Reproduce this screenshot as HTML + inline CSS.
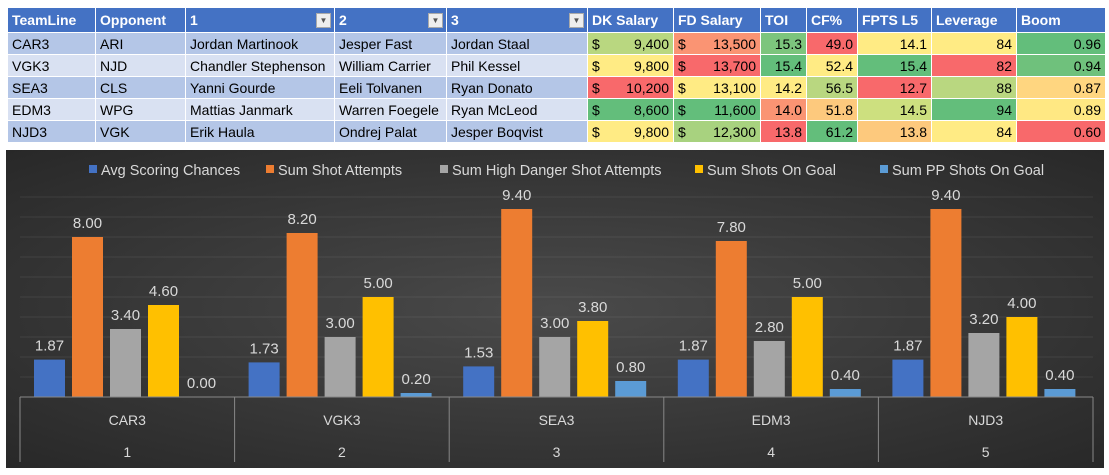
<!DOCTYPE html>
<html><head><meta charset="utf-8">
<style>
body{margin:0;width:1109px;height:475px;background:#fff;font-family:"Liberation Sans",sans-serif;overflow:hidden;position:relative}
table{position:absolute;left:7px;top:7px;border-collapse:collapse;font-family:"Liberation Sans",sans-serif;font-size:14px;table-layout:fixed}
td,th{border:1.5px solid #fff;height:21px;padding:0 4px;white-space:nowrap;overflow:hidden}
th{background:#4472c4;color:#fff;text-align:left;font-weight:bold;height:24px;position:relative}
tr.o td{background:#b4c6e7}tr.e td{background:#d9e1f2}
td.n{text-align:right}
.dd{position:absolute;right:3px;top:5px;width:13px;height:13px;background:#eee;border:1px solid #aaa;font-size:8px;color:#555;text-align:center;line-height:13px}
.d{float:left}
</style></head><body>
<table>
<colgroup><col style="width:88px"><col style="width:90px"><col style="width:149px"><col style="width:112px"><col style="width:141px"><col style="width:86px"><col style="width:87px"><col style="width:46px"><col style="width:51px"><col style="width:74px"><col style="width:85px"><col style="width:89px"></colgroup>
<tr><th>TeamLine</th><th>Opponent</th><th>1<span class="dd">▼</span></th><th>2<span class="dd">▼</span></th><th>3<span class="dd">▼</span></th><th>DK Salary</th><th>FD Salary</th><th>TOI</th><th>CF%</th><th>FPTS L5</th><th>Leverage</th><th>Boom</th></tr>
<tr class="o"><td>CAR3</td><td>ARI</td><td>Jordan Martinook</td><td>Jesper Fast</td><td>Jordan Staal</td><td class="n" style="background:#b9d780"><span class="d">$</span>9,400</td><td class="n" style="background:#fa9473"><span class="d">$</span>13,500</td><td class="n" style="background:#7cc57d">15.3</td><td class="n" style="background:#f8696b">49.0</td><td class="n" style="background:#ffeb84">14.1</td><td class="n" style="background:#ffeb84">84</td><td class="n" style="background:#63be7b">0.96</td></tr>
<tr class="e"><td>VGK3</td><td>NJD</td><td>Chandler Stephenson</td><td>William Carrier</td><td>Phil Kessel</td><td class="n" style="background:#ffeb84"><span class="d">$</span>9,800</td><td class="n" style="background:#f8696b"><span class="d">$</span>13,700</td><td class="n" style="background:#63be7b">15.4</td><td class="n" style="background:#ffeb84">52.4</td><td class="n" style="background:#63be7b">15.4</td><td class="n" style="background:#f8696b">82</td><td class="n" style="background:#6fc17c">0.94</td></tr>
<tr class="o"><td>SEA3</td><td>CLS</td><td>Yanni Gourde</td><td>Eeli Tolvanen</td><td>Ryan Donato</td><td class="n" style="background:#f8696b"><span class="d">$</span>10,200</td><td class="n" style="background:#ffeb84"><span class="d">$</span>13,100</td><td class="n" style="background:#ffeb84">14.2</td><td class="n" style="background:#b9d780">56.5</td><td class="n" style="background:#f8696b">12.7</td><td class="n" style="background:#b9d780">88</td><td class="n" style="background:#ffd680">0.87</td></tr>
<tr class="e"><td>EDM3</td><td>WPG</td><td>Mattias Janmark</td><td>Warren Foegele</td><td>Ryan McLeod</td><td class="n" style="background:#63be7b"><span class="d">$</span>8,600</td><td class="n" style="background:#63be7b"><span class="d">$</span>11,600</td><td class="n" style="background:#fa9473">14.0</td><td class="n" style="background:#fdc97d">51.8</td><td class="n" style="background:#cde07f">14.5</td><td class="n" style="background:#63be7b">94</td><td class="n" style="background:#ffe883">0.89</td></tr>
<tr class="o"><td>NJD3</td><td>VGK</td><td>Erik Haula</td><td>Ondrej Palat</td><td>Jesper Boqvist</td><td class="n" style="background:#ffeb84"><span class="d">$</span>9,800</td><td class="n" style="background:#a8d27f"><span class="d">$</span>12,300</td><td class="n" style="background:#f8696b">13.8</td><td class="n" style="background:#63be7b">61.2</td><td class="n" style="background:#fdc97d">13.8</td><td class="n" style="background:#ffeb84">84</td><td class="n" style="background:#f8696b">0.60</td></tr>
</table>
<svg id="chart" style="position:absolute;left:0;top:0" width="1109" height="475">
<defs><radialGradient id="bg" cx="0.5" cy="0.5" r="0.75"><stop offset="0" stop-color="#4a4a4a"/><stop offset="1" stop-color="#262626"/></radialGradient></defs>
<rect x="6" y="150" width="1098" height="318" fill="url(#bg)"/>
<g id="g"></g>
</svg>
<script>
const categories=["CAR3","VGK3","SEA3","EDM3","NJD3"];
const subLabels=["1","2","3","4","5"];
const seriesNames=["Avg Scoring Chances","Sum Shot Attempts","Sum High Danger Shot Attempts","Sum Shots On Goal","Sum PP Shots On Goal"];
const scoringChances=[1.87,1.73,1.53,1.87,1.87];
const shotAttempts=[8.00,8.20,9.40,7.80,9.40];
const highDanger=[3.40,3.00,3.00,2.80,3.20];
const shotsOnGoal=[4.60,5.00,3.80,5.00,4.00];
const ppShots=[0.00,0.20,0.80,0.40,0.40];
const series=[scoringChances,shotAttempts,highDanger,shotsOnGoal,ppShots];
const colors=["#4472c4","#ed7d31","#a5a5a5","#ffc000","#5b9bd5"];
const NS="http://www.w3.org/2000/svg";
const gEl=document.getElementById('g');
const plotX0=20,plotX1=1093,plotBase=397,plotTop=197,maxV=10;
const yScale=v=>plotBase-(v/maxV)*(plotBase-plotTop);
const cw=(plotX1-plotX0)/categories.length;
function mk(t,a){const e=document.createElementNS(NS,t);for(const k in a)e.setAttribute(k,a[k]);gEl.appendChild(e);return e;}
for(let v=1;v<=maxV;v++){const l=mk('line',{x1:plotX0,x2:plotX1,y1:yScale(v),y2:yScale(v),stroke:'#fff','stroke-opacity':0.08,'stroke-width':1});

}
categories.forEach((c,i)=>{
 const gx=plotX0+i*cw;
 series.forEach((s,j)=>{
  const bx=gx+14+j*38, v=s[i];
  const r=mk('rect',{x:bx,y:yScale(v),width:31,height:plotBase-yScale(v),fill:colors[j]});
  
  
  const t=mk('text',{x:bx+15.5,y:yScale(v)-9,'text-anchor':'middle',fill:'#d9d9d9','font-size':15});
  t.textContent=v.toFixed(2);
  
  
 });
 const t1=mk('text',{x:gx+cw/2,y:425,'text-anchor':'middle',fill:'#d9d9d9','font-size':14});t1.textContent=c;
 
 
 const t2=mk('text',{x:gx+cw/2,y:457,'text-anchor':'middle',fill:'#d9d9d9','font-size':14});t2.textContent=subLabels[i];
 
 
});
for(let i=0;i<=categories.length;i++){const l=mk('line',{x1:plotX0+i*cw,x2:plotX0+i*cw,y1:plotBase,y2:462,stroke:'#888'});

}
const ax=mk('line',{x1:plotX0,x2:plotX1,y1:plotBase,y2:plotBase,stroke:'#888'});


const lx=[89,266,440,695,880];
seriesNames.forEach((n,j)=>{
 const r=mk('rect',{x:lx[j],y:165,width:8,height:8,fill:colors[j]});
 
 
 const t=mk('text',{x:lx[j]+12,y:175,fill:'#d9d9d9','font-size':14.5});t.textContent=n;
 
 
});
</script>
</body></html>
